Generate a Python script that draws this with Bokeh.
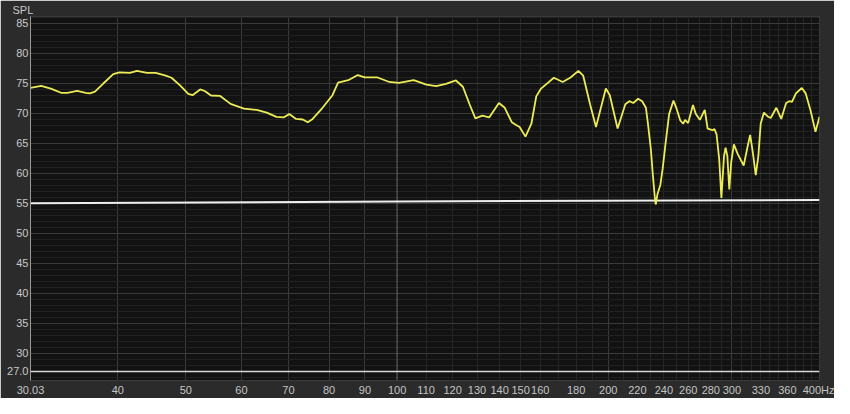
from bokeh.plotting import figure
from bokeh.models import FixedTicker, Span, Range1d
from bokeh.embed import file_html
from bokeh.resources import INLINE

# ---- data ----
freq = [30.03, 31.1, 32.1, 33.2, 33.9, 35.0, 36.0, 36.5, 37.1, 38.1, 39.4, 40.2, 41.6, 42.6,
        44.0, 45.3, 46.8, 47.7, 49.1, 50.4, 51.1, 52.4, 53.2, 54.3, 55.9, 57.9, 60.5, 63.1,
        65.2, 67.3, 68.9, 70.2, 71.8, 73.4, 74.6, 75.8, 78.3, 80.9, 82.4, 85.2, 87.9, 89.9,
        93.8, 97.5, 100.6, 105.6, 110.1, 113.7, 117.4, 121.3, 124.1, 126.9, 129.3, 132.3,
        135.3, 139.7, 142.4, 145.7, 148.0, 149.5, 152.4, 155.4, 157.9, 160.4, 167.3, 172.2,
        176.7, 181.3, 184.2, 188.4, 192.1, 198.4, 201.0, 206.2, 211.5, 214.3, 217.1, 220.6,
        223.5, 226.3, 227.8, 230.0, 231.5, 233.0, 233.7, 235.0, 237.3, 239.1, 241.4, 244.2,
        247.7, 250.0, 253.3, 255.7, 257.4, 259.9, 264.1, 266.6, 270.1, 274.5, 277.1, 281.6,
        283.4, 285.3, 287.8, 289.9, 292.4, 293.9, 295.6, 297.5, 299.4, 302.0, 305.9, 311.9,
        316.0, 318.6, 321.4, 324.5, 327.3, 329.8, 333.3, 338.0, 340.8, 347.2, 352.8, 358.5,
        362.3, 365.5, 370.2, 377.4, 382.3, 388.5, 394.8, 398.7, 400.0]
spl = [74.2, 74.55, 74.1, 73.4, 73.4, 73.7, 73.4, 73.3, 73.6, 74.9, 76.5, 76.8, 76.7, 77.05,
       76.7, 76.7, 76.25, 75.9, 74.6, 73.2, 73.0, 73.95, 73.7, 72.95, 72.9, 71.55, 70.75, 70.55,
       70.1, 69.4, 69.3, 69.85, 69.05, 68.95, 68.5, 69.05, 70.9, 73.0, 75.1, 75.5, 76.35, 75.95,
       75.95, 75.2, 75.05, 75.5, 74.75, 74.5, 74.9, 75.45, 74.4, 71.45, 69.15, 69.6,
       69.3, 71.7, 70.9, 68.5, 68.0, 67.7, 66.1, 68.25, 72.8, 74.1, 75.9, 75.2,
       75.95, 77.05, 76.25, 71.5, 67.7, 74.1, 73.0, 67.45, 71.5, 72.0, 71.7, 72.4,
       72.0, 70.9, 68.25, 64.0, 59.7, 56.0, 54.8, 56.5, 58.1, 60.8, 65.05, 69.85,
       72.1, 70.9, 68.8, 68.25, 68.9, 68.35, 71.35, 69.85, 68.9, 70.55, 67.45, 67.2,
       67.35, 66.5, 62.4, 55.9, 62.9, 64.25, 62.9, 57.3, 61.85, 64.8, 63.2, 61.3,
       64.5, 66.4, 63.45, 59.7, 62.9, 68.25, 70.1, 69.4, 69.2, 70.9, 69.05, 71.7,
       72.0, 71.9, 73.3, 74.2, 73.3, 70.4, 66.9, 68.8, 69.4]

target_freq = [30.03, 100.0, 400.0]
target_spl = [55.0, 55.3, 55.55]

cursor_freq = 30.03
cursor_spl = 27.0

x_tick_labels = [40, 50, 60, 70, 80, 90, 100, 110, 120, 130, 140, 150, 160, 180,
                 200, 220, 240, 260, 280, 300, 330, 360, 400]
x_major_grid = [40, 50, 60, 70, 80, 90, 200, 300]
x_minor_grid = [110, 120, 130, 140, 150, 160, 170, 180, 190,
                210, 220, 230, 240, 250, 260, 270, 280, 290,
                310, 320, 330, 340, 350, 360, 370, 380, 390]
y_ticks = [30, 35, 40, 45, 50, 55, 60, 65, 70, 75, 80, 85]
y_minor = [v for v in range(26, 87) if v % 5 != 0]

X0, X1 = 30.03, 400.0
Y0, Y1 = 25.5, 86.1

FONT = "Liberation Sans"

p = figure(width=834, height=398, x_axis_type="log",
           x_range=Range1d(X0, X1), y_range=Range1d(Y0, Y1),
           output_backend="svg", toolbar_location=None,
           background_fill_color="#121212", border_fill_color="#2b2b2b",
           min_border_left=30, min_border_right=15, min_border_top=15, min_border_bottom=17,
           outline_line_color="#3a3a3a")

# title "SPL" at the top-left
p.title.text = "SPL"
p.title.align = "left"
p.title.offset = -18
p.title.standoff = 2
p.title.text_font = FONT
p.title.text_font_size = "11px"
p.title.text_font_style = "normal"
p.title.text_color = "#c8c8c8"

# grids
p.xgrid.ticker = FixedTicker(ticks=x_major_grid, minor_ticks=x_minor_grid)
p.xgrid.grid_line_color = "#3a3a3a"
p.xgrid.minor_grid_line_color = "#262626"
p.ygrid.ticker = FixedTicker(ticks=y_ticks, minor_ticks=y_minor)
p.ygrid.grid_line_color = "#3a3a3a"
p.ygrid.minor_grid_line_color = "#222222"

p.add_layout(Span(location=100, dimension="height", line_color="#6a6a6a", line_width=1, level="underlay"))

# x axis
p.xaxis.ticker = FixedTicker(ticks=[cursor_freq] + x_tick_labels)
p.xaxis.major_label_overrides = {cursor_freq: f"{cursor_freq:.2f}", 400: "400Hz"}
p.xaxis.major_label_text_color = "#c4c4c4"
p.xaxis.major_label_text_font = FONT
p.xaxis.major_label_text_font_size = "11px"
p.xaxis.major_tick_line_color = None
p.xaxis.minor_tick_line_color = None
p.xaxis.major_tick_out = 0
p.xaxis.major_label_standoff = 3
p.xaxis.axis_line_color = None

# y axis
p.yaxis.ticker = FixedTicker(ticks=[cursor_spl] + y_ticks)
p.yaxis.major_label_overrides = {cursor_spl: f"{cursor_spl:.1f}"}
p.yaxis.major_label_text_color = "#c8c8c8"
p.yaxis.major_label_text_font = FONT
p.yaxis.major_label_text_font_size = "11px"
p.yaxis.major_tick_line_color = None
p.yaxis.minor_tick_line_color = None
p.yaxis.major_tick_out = 0
p.yaxis.major_label_standoff = 2
p.yaxis.axis_line_color = "#9a9a9a"

# data lines
p.line(target_freq, target_spl, line_color="#eeeeee", line_width=2)
p.line(freq, spl, line_color="#ecec55", line_width=1.8)

# cursor line
p.add_layout(Span(location=cursor_spl, dimension="width", line_color="#d8d8d8", line_width=1.5))

open("out.html", "w").write(file_html(p, INLINE))
